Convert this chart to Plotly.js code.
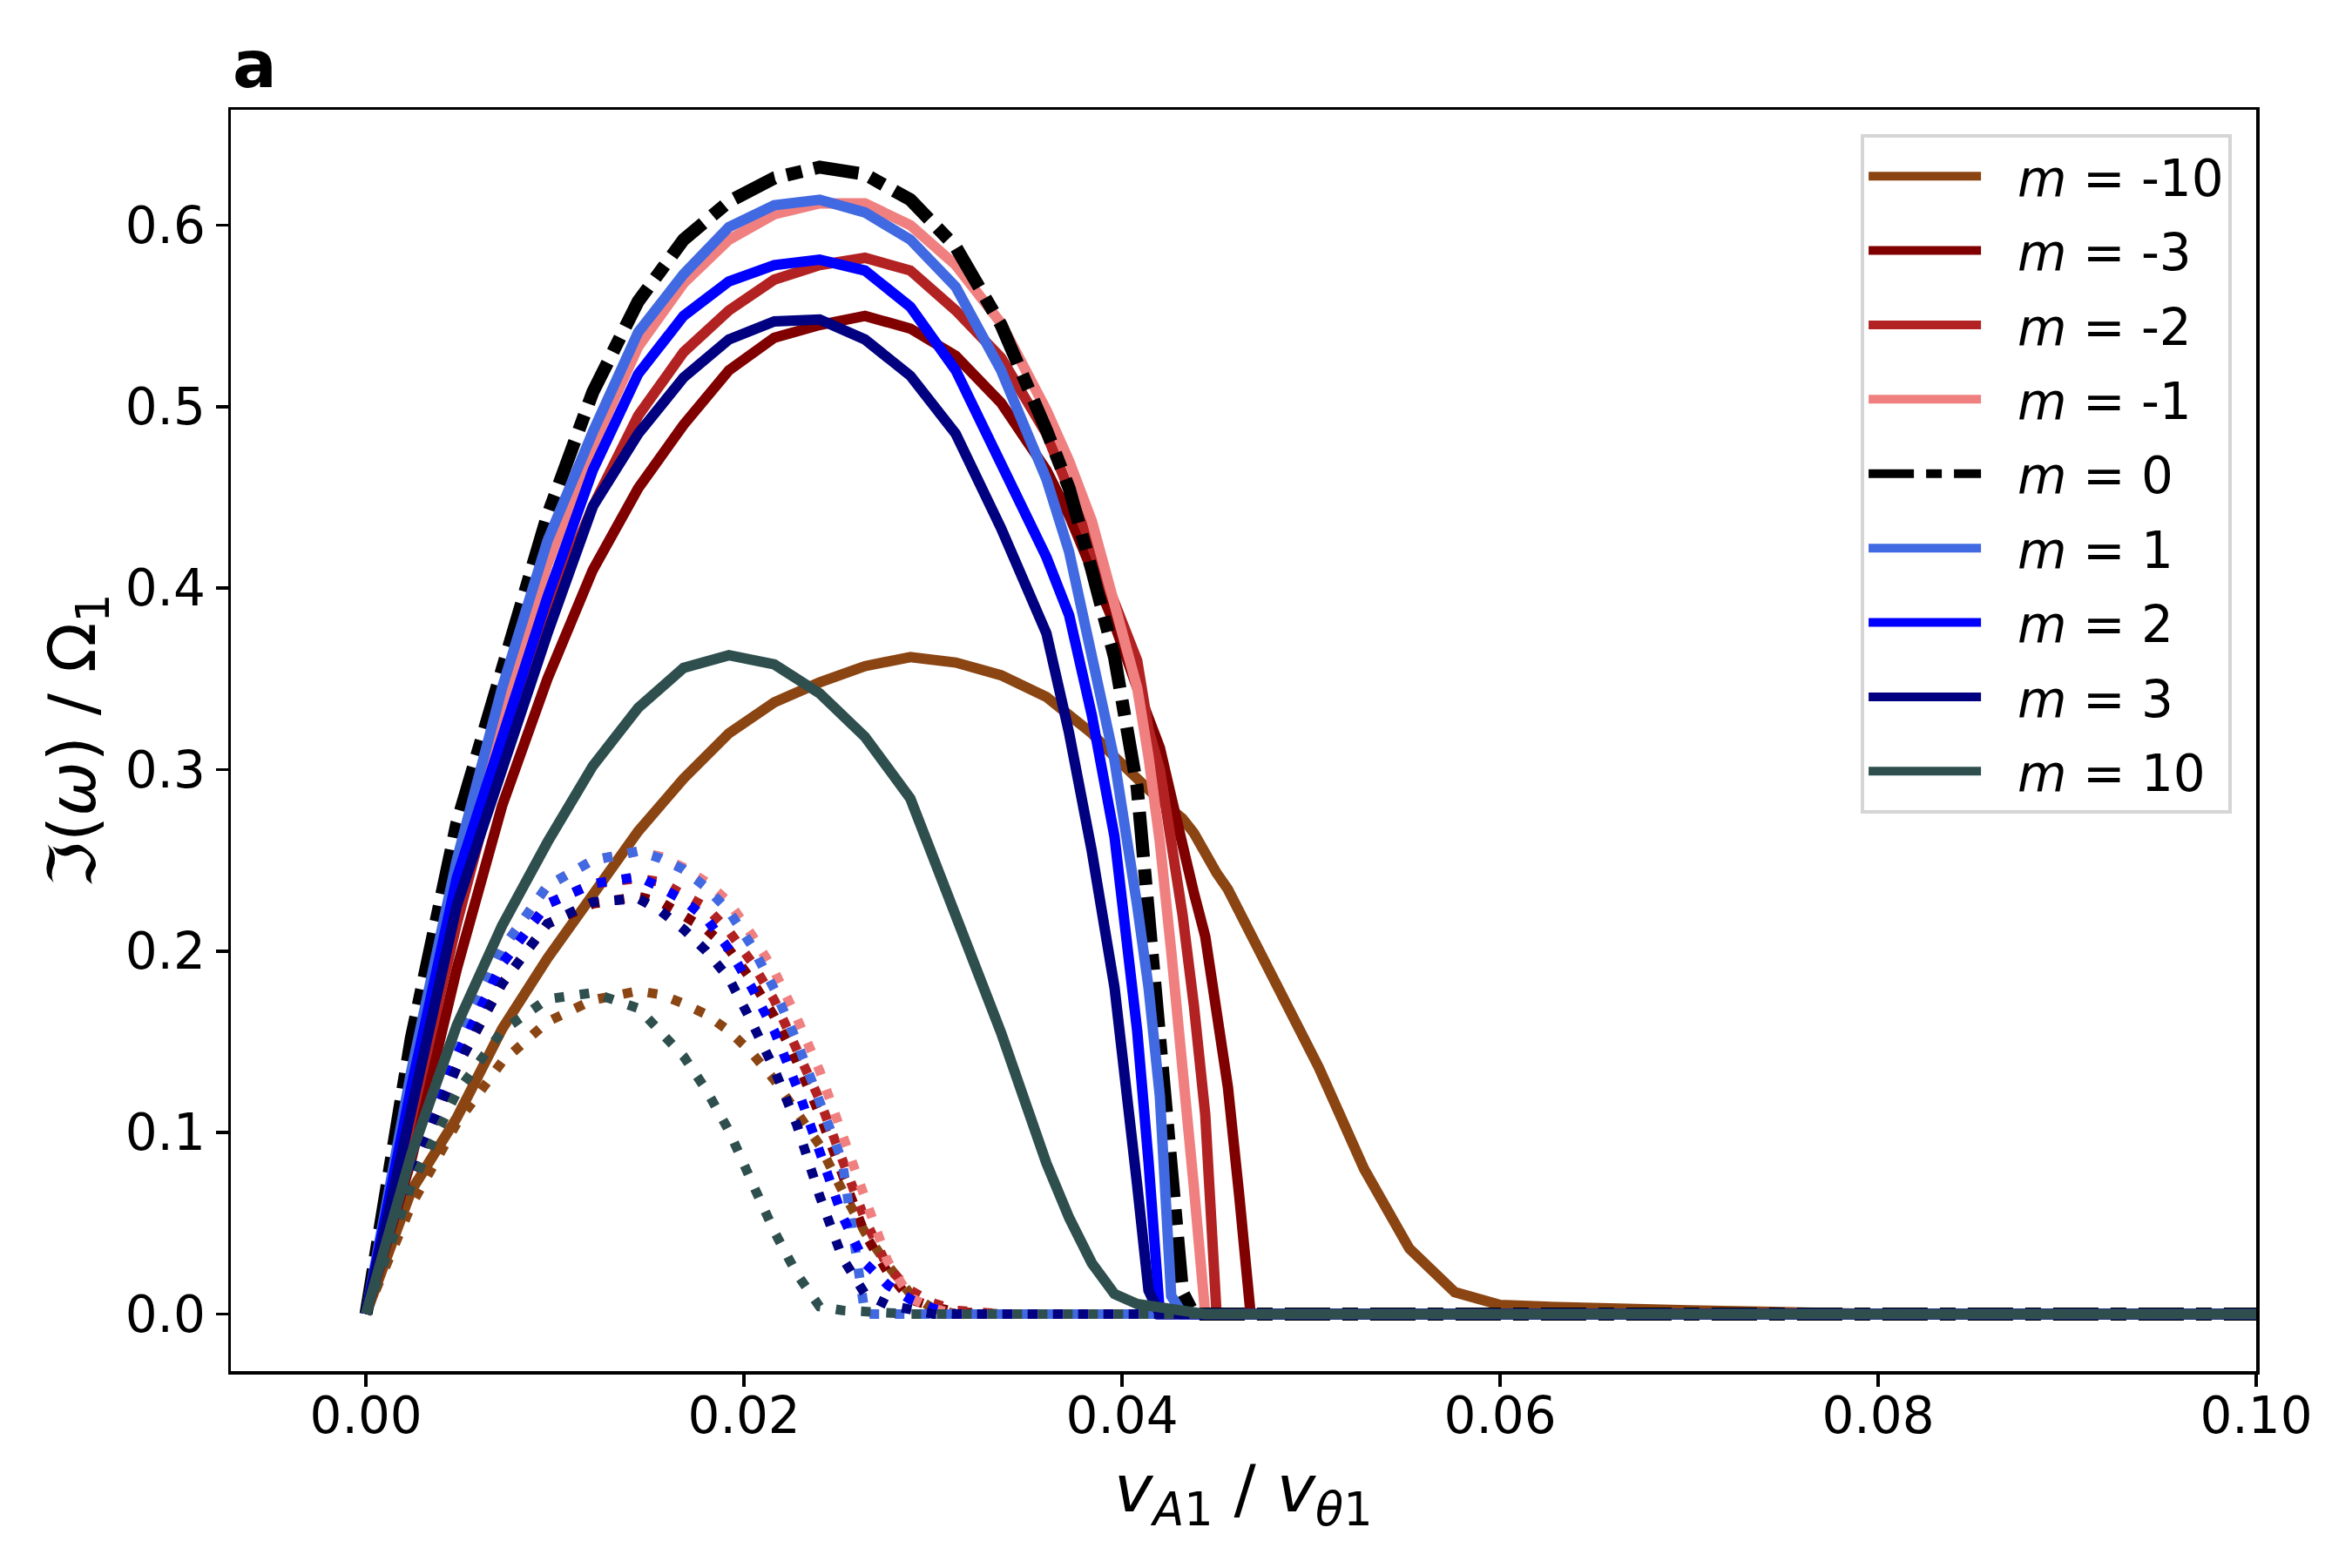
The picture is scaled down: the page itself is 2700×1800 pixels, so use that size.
<!DOCTYPE html>
<html>
<head>
<meta charset="utf-8">
<script src="https://cdn.plot.ly/plotly-3.0.1.min.js"></script>
<style>
  html, body { margin: 0; padding: 0; background: #fff; }
</style>
</head>
<body>
<div id="myDiv" style="width:2700px;height:1800px;"></div>
<script>
// x samples (v_A1 / v_theta1) for the solid curves
const xSolid = [0, 0.0024, 0.0048, 0.0072, 0.0096, 0.012, 0.0144, 0.0168, 0.0192, 0.0216,
  0.024, 0.0264, 0.0288, 0.0312, 0.0336, 0.036, 0.0372, 0.0384, 0.0396, 0.0408,
  0.0414, 0.042, 0.0426, 0.0432, 0.0438, 0.0444, 0.045, 0.0456, 0.0462, 0.0468,
  0.048, 0.0504, 0.0528, 0.0552, 0.0576, 0.06, 0.0624, 0.0648, 0.07, 0.08,
  0.1, 0.12, 0.14];

// x samples for the dotted curves
const xDot = [0, 0.0012, 0.0024, 0.0048, 0.0072, 0.0096, 0.012, 0.0144, 0.0156, 0.0168,
  0.018, 0.0192, 0.0204, 0.0216, 0.0228, 0.024, 0.0252, 0.0264, 0.0276, 0.0288,
  0.03, 0.0312, 0.0336, 0.04, 0.06, 0.1, 0.14];

const mValues = [-10, -3, -2, -1, 0, 1, 2, 3, 10];
const colors = ['#8B4513', '#800000', '#B22222', '#F08080', '#000000', '#4169E1', '#0000FF', '#000080', '#2F4F4F'];

// Im(omega) / Omega_1, solid curves
const solidM10n = [0, 0.068, 0.108, 0.157, 0.196, 0.231, 0.266, 0.295, 0.32, 0.337,
  0.348, 0.357, 0.362, 0.359, 0.352, 0.34, 0.33, 0.32, 0.307, 0.294,
  0.288, 0.283, 0.278, 0.273, 0.265, 0.253, 0.243, 0.234, 0.222, 0.21,
  0.186, 0.136, 0.08, 0.036, 0.012, 0.005, 0.004, 0.003, 0.002, 0,
  0, 0, 0];
const solidM3n = [0, 0.085, 0.19, 0.28, 0.35, 0.41, 0.455, 0.49, 0.52, 0.538,
  0.545, 0.55, 0.543, 0.528, 0.502, 0.465, 0.44, 0.41, 0.38, 0.345,
  0.328, 0.312, 0.285, 0.257, 0.232, 0.208, 0.168, 0.125, 0.065, 0,
  0, 0, 0, 0, 0, 0, 0, 0, 0, 0,
  0, 0, 0];
const solidM2n = [0, 0.11, 0.215, 0.31, 0.385, 0.445, 0.495, 0.53, 0.553, 0.57,
  0.578, 0.582, 0.575, 0.553, 0.527, 0.485, 0.455, 0.425, 0.392, 0.36,
  0.322, 0.3, 0.26, 0.22, 0.17, 0.11, 0, 0, 0, 0,
  0, 0, 0, 0, 0, 0, 0, 0, 0, 0,
  0, 0, 0];
const solidM1n = [0, 0.115, 0.228, 0.332, 0.413, 0.478, 0.533, 0.568, 0.592, 0.606,
  0.612, 0.612, 0.6, 0.578, 0.546, 0.498, 0.47, 0.437, 0.392, 0.345,
  0.307, 0.26, 0.2, 0.14, 0.07, 0, 0, 0, 0, 0,
  0, 0, 0, 0, 0, 0, 0, 0, 0, 0,
  0, 0, 0];
const solidM0 = [0, 0.152, 0.27, 0.355, 0.44, 0.508, 0.558, 0.592, 0.613, 0.626,
  0.632, 0.628, 0.614, 0.588, 0.545, 0.487, 0.455, 0.41, 0.362, 0.29,
  0.225, 0.154, 0.083, 0.012, 0, 0, 0, 0, 0, 0,
  0, 0, 0, 0, 0, 0, 0, 0, 0, 0,
  0, 0, 0];
const solidM1 = [0, 0.134, 0.25, 0.345, 0.426, 0.486, 0.541, 0.573, 0.599, 0.611,
  0.614, 0.607, 0.592, 0.566, 0.52, 0.46, 0.42, 0.36, 0.305, 0.225,
  0.18, 0.12, 0.01, 0, 0, 0, 0, 0, 0, 0,
  0, 0, 0, 0, 0, 0, 0, 0, 0, 0,
  0, 0, 0];
const solidM2 = [0, 0.125, 0.24, 0.318, 0.395, 0.465, 0.518, 0.55, 0.569, 0.578,
  0.581, 0.575, 0.555, 0.52, 0.47, 0.417, 0.385, 0.33, 0.263, 0.156,
  0.084, 0, 0, 0, 0, 0, 0, 0, 0, 0,
  0, 0, 0, 0, 0, 0, 0, 0, 0, 0,
  0, 0, 0];
const solidM3 = [0, 0.11, 0.225, 0.3, 0.375, 0.445, 0.485, 0.516, 0.537, 0.547,
  0.548, 0.537, 0.517, 0.485, 0.433, 0.375, 0.32, 0.255, 0.18, 0.071,
  0.013, 0, 0, 0, 0, 0, 0, 0, 0, 0,
  0, 0, 0, 0, 0, 0, 0, 0, 0, 0,
  0, 0, 0];
const solidM10 = [0, 0.088, 0.159, 0.214, 0.26, 0.302, 0.334, 0.356, 0.363, 0.358,
  0.342, 0.318, 0.284, 0.218, 0.155, 0.083, 0.053, 0.028, 0.011, 0.0055,
  0.0045, 0.0035, 0.0025, 0.0015, 0, 0, 0, 0, 0, 0,
  0, 0, 0, 0, 0, 0, 0, 0, 0, 0,
  0, 0, 0];

// dotted curves
const dotM10n = [0, 0.03, 0.06, 0.105, 0.139, 0.161, 0.173, 0.178, 0.176, 0.171,
  0.165, 0.156, 0.144, 0.129, 0.112, 0.093, 0.068, 0.045, 0.027, 0.011,
  0.003, 0, 0, 0, 0, 0, 0];
const dotM3n = [0, 0.042, 0.076, 0.136, 0.182, 0.215, 0.226, 0.23, 0.227, 0.22,
  0.212, 0.201, 0.184, 0.164, 0.139, 0.11, 0.078, 0.044, 0.023, 0.008,
  0.004, 0.001, 0, 0, 0, 0, 0];
const dotM2n = [0, 0.043, 0.079, 0.142, 0.193, 0.226, 0.237, 0.24, 0.238, 0.231,
  0.224, 0.211, 0.194, 0.173, 0.146, 0.118, 0.085, 0.052, 0.026, 0.013,
  0.006, 0.002, 0, 0, 0, 0, 0];
const dotM1n = [0, 0.045, 0.083, 0.148, 0.201, 0.236, 0.25, 0.255, 0.252, 0.246,
  0.238, 0.227, 0.209, 0.189, 0.163, 0.134, 0.099, 0.063, 0.029, 0.009,
  0.003, 0, 0, 0, 0, 0, 0];
const dotM1 = [0, 0.045, 0.083, 0.148, 0.201, 0.236, 0.25, 0.255, 0.251, 0.245,
  0.235, 0.222, 0.203, 0.179, 0.15, 0.118, 0.084, 0, 0, 0,
  0, 0, 0, 0, 0, 0, 0];
const dotM2 = [0, 0.043, 0.079, 0.142, 0.193, 0.226, 0.237, 0.241, 0.235, 0.228,
  0.218, 0.201, 0.18, 0.156, 0.125, 0.089, 0.054, 0.028, 0.016, 0.008,
  0.003, 0, 0, 0, 0, 0, 0];
const dotM3 = [0, 0.042, 0.076, 0.136, 0.182, 0.215, 0.227, 0.229, 0.222, 0.212,
  0.2, 0.185, 0.161, 0.135, 0.104, 0.065, 0.031, 0.011, 0.005, 0.002,
  0, 0, 0, 0, 0, 0, 0];
const dotM10 = [0, 0.037, 0.071, 0.122, 0.156, 0.1735, 0.177, 0.1685, 0.156, 0.142,
  0.1235, 0.101, 0.073, 0.0455, 0.022, 0.004, 0.002, 0.001, 0, 0,
  0, 0, 0, 0, 0, 0, 0];

const solidList = [solidM10n, solidM3n, solidM2n, solidM1n, solidM0, solidM1, solidM2, solidM3, solidM10];
const dotList = [dotM10n, dotM3n, dotM2n, dotM1n, null, dotM1, dotM2, dotM3, dotM10];

let lines = [];

for (let i = 0; i < mValues.length; i++) {
  let isZero = mValues[i] === 0;
  lines.push({
    x: xSolid,
    y: solidList[i],
    type: 'scatter',
    mode: 'lines',
    // two no-break spaces keep the label clear of the long legend line
    name: '\u00a0\u00a0<i>m</i> = ' + mValues[i],
    legendgroup: 'm' + mValues[i],
    line: {
      color: colors[i],
      width: isZero ? 15 : 12,
      dash: isZero ? '52px,14px,18px,14px' : 'solid'
    },
    hoverinfo: 'skip'
  });
  if (dotList[i]) {
    lines.push({
      x: xDot,
      y: dotList[i],
      type: 'scatter',
      mode: 'lines',
      showlegend: false,
      legendgroup: 'm' + mValues[i],
      line: {color: colors[i], width: 11, dash: '11px,18px'},
      hoverinfo: 'skip'
    });
  }
}

let layout = {
  width: 2700,
  height: 1800,
  margin: {l: 265, r: 110, t: 126, b: 226},
  paper_bgcolor: '#ffffff',
  plot_bgcolor: '#ffffff',
  font: {family: 'DejaVu Sans', size: 58, color: '#000000'},
  showlegend: true,
  xaxis: {
    range: [-0.00715, 0.1],
    showgrid: false,
    zeroline: false,
    showline: true,
    mirror: true,
    linecolor: '#000000',
    linewidth: 3.5,
    ticks: 'outside',
    ticklen: 14,
    tickwidth: 3.5,
    tickcolor: '#000000',
    tick0: 0,
    dtick: 0.02,
    tickformat: '.2f',
    ticklabelstandoff: -16,
    tickfont: {family: 'DejaVu Sans', size: 58}
  },
  yaxis: {
    range: [-0.0315, 0.6636],
    title: {
      text: 'ℑ(<i>ω</i>) / Ω<sub>1</sub>',
      font: {family: 'DejaVu Sans', size: 75},
      standoff: 10
    },
    showgrid: false,
    zeroline: false,
    showline: true,
    mirror: true,
    linecolor: '#000000',
    linewidth: 3.5,
    ticks: 'outside',
    ticklen: 14,
    tickwidth: 3.5,
    tickcolor: '#000000',
    tick0: 0,
    dtick: 0.1,
    tickformat: '.1f',
    tickfont: {family: 'DejaVu Sans', size: 58}
  },
  legend: {
    x: 0.988,
    y: 0.9807,
    xanchor: 'right',
    yanchor: 'top',
    bgcolor: '#ffffff',
    bordercolor: '#d5d5d5',
    borderwidth: 4,
    font: {family: 'DejaVu Sans', size: 58},
    itemwidth: 129,
    tracegroupgap: 7,
    traceorder: 'grouped'
  },
  annotations: [{
    text: '<b>a</b>',
    xref: 'paper',
    yref: 'paper',
    x: 0,
    y: 1,
    xanchor: 'left',
    yanchor: 'bottom',
    yshift: 6,
    showarrow: false,
    font: {family: 'DejaVu Sans', size: 75, color: '#000000'}
  }, {
    text: '<i>v</i><sub><i>A</i>1</sub> / <i>v</i><sub><i>θ</i>1</sub>',
    xref: 'paper',
    yref: 'paper',
    x: 0.5,
    y: 0,
    xanchor: 'center',
    yanchor: 'top',
    yshift: -89,
    showarrow: false,
    font: {family: 'DejaVu Sans', size: 75, color: '#000000'}
  }]
};

Plotly.newPlot('myDiv', lines, layout, {displayModeBar: false, staticPlot: true});
</script>
</body>
</html>
